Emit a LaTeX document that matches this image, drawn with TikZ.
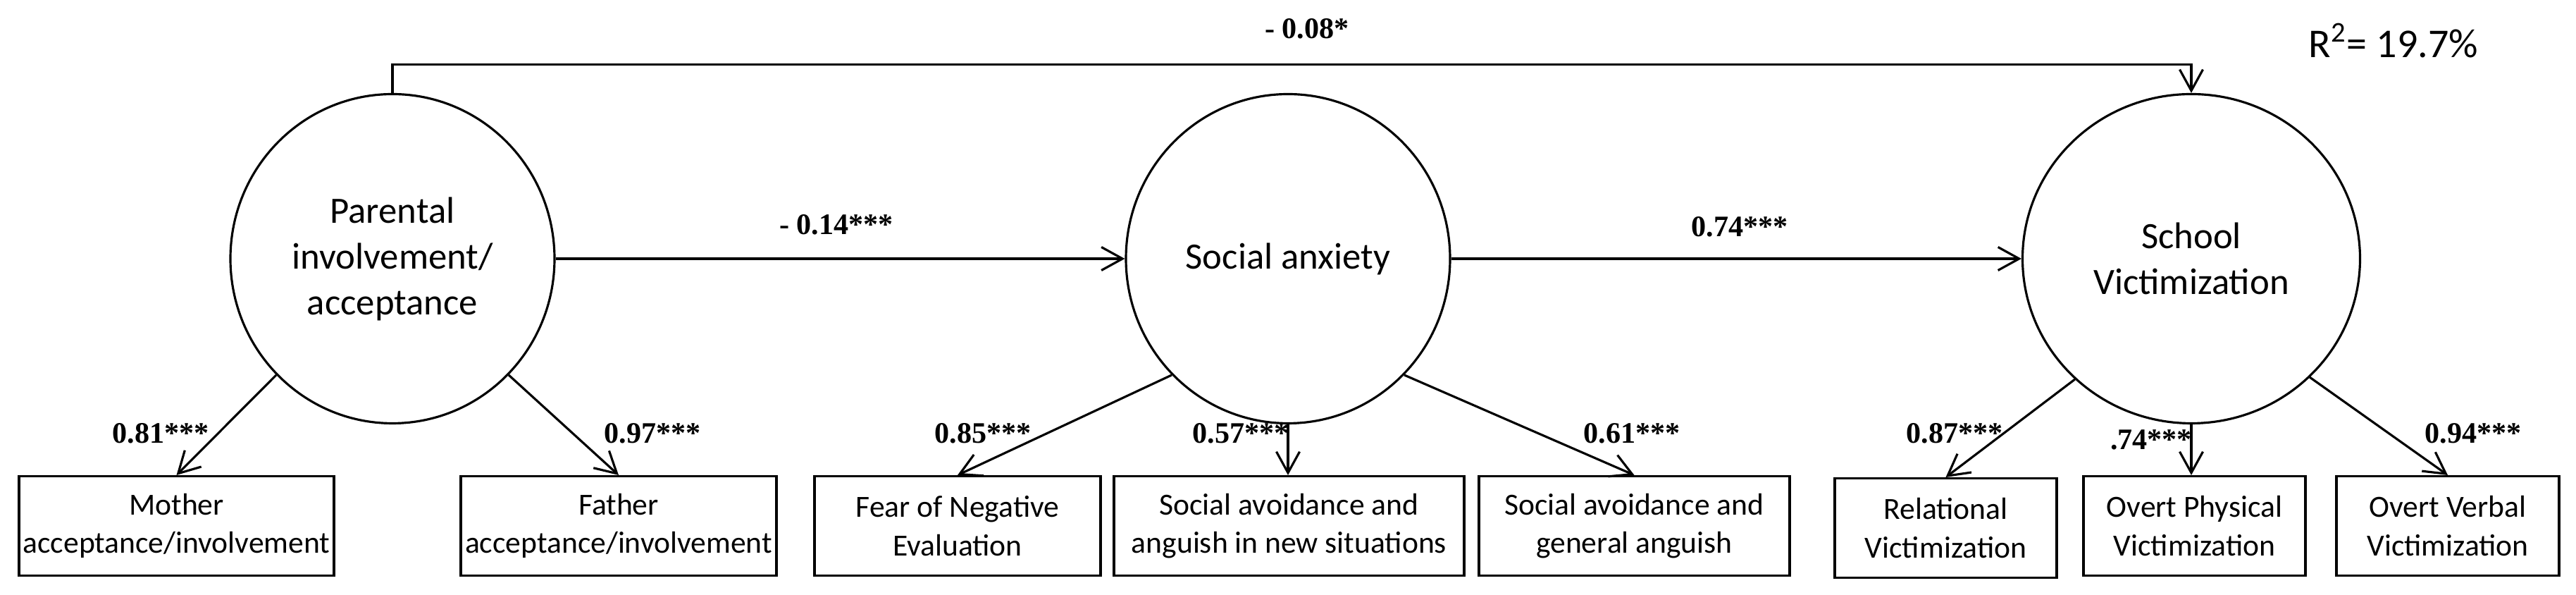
\documentclass[tikz,border=0pt]{standalone}
\usepackage{fontspec}
\setmainfont{Carlito}
\newfontfamily\coeffont{Liberation Serif}
\usetikzlibrary{arrows.meta,shapes.geometric}
\begin{document}
\begin{tikzpicture}[
        latent/.style={draw, ellipse, line width=0.9pt, inner sep=0pt, minimum width=4.6cm, minimum height=4.67cm, align=center, font=\fontsize{15}{18.5}\selectfont},
        indicator/.style={draw, line width=0.9pt, inner sep=0pt, minimum height=1.41cm, anchor=north, align=center, font=\fontsize{12.4}{15.4}\selectfont},
        effect/.style={line width=0.9pt, -{Straight Barb[length=3mm,width=3.3mm]}},
        coef/.style={anchor=base, inner sep=0pt, font=\coeffont\bfseries\fontsize{12}{14}\selectfont}
    ]
        \useasboundingbox (0,0) rectangle (36.56,8.44);
        % latent variables
        \node [latent] (parent) at (5.57,4.77) {Parental\\involvement/\\acceptance};
        \node [latent] (social) at (18.28,4.77) {Social anxiety};
        \node [latent, minimum width=4.79cm] (school) at (31.10,4.77) {School\\Victimization};
        % indicators
        \node [indicator, minimum width=4.47cm] (mother) at (2.505,1.70) {Mother\\acceptance/involvement};
        \node [indicator, minimum width=4.48cm] (father) at (8.78,1.70) {Father\\acceptance/involvement};
        \node [indicator, minimum width=4.06cm] (fear) at (13.59,1.70) {Fear of Negative\\Evaluation};
        \node [indicator, minimum width=4.97cm] (avnew) at (18.295,1.70) {Social avoidance and\\anguish in new situations};
        \node [indicator, minimum width=4.41cm] (avgen) at (23.195,1.70) {Social avoidance and\\general anguish};
        \node [indicator, minimum width=3.15cm] (relat) at (27.615,1.67) {Relational\\Victimization};
        \node [indicator, minimum width=3.15cm] (physic) at (31.145,1.70) {Overt Physical\\Victimization};
        \node [indicator, minimum width=3.16cm] (verbal) at (34.74,1.70) {Overt Verbal\\Victimization};
        % structural paths
        \draw[effect] (parent.north) -- ++(0,0.40) -| (school.north);
        \draw[effect] (parent.east) -- (social.west);
        \draw[effect] (social.east) -- (school.west);
        \node [coef] (c08) at (18.55,7.89) {- 0.08*};
        \node [coef] (c14) at (11.87,5.11) {- 0.14***};
        \node [coef] (c74) at (24.69,5.08) {0.74***};
        % loadings
        \draw[effect] (parent.225) -- (mother.north);
        \draw[effect] (parent.-45) -- (father.north);
        \draw[effect] (social.225) -- (fear.north);
        \draw[effect] (social.south) -- (social.south |- avnew.north);
        \draw[effect] (social.-45) -- (avgen.north);
        \draw[effect] (school.226) -- (relat.north);
        \draw[effect] (school.south) -- (school.south |- physic.north);
        \draw[effect] (school.-45) -- (verbal.north);
        \node [coef] (l81) at (2.28,2.15) {0.81***};
        \node [coef] (l97) at (9.26,2.15) {0.97***};
        \node [coef] (l85) at (13.95,2.15) {0.85***};
        \node [coef] (l57) at (17.61,2.15) {0.57***};
        \node [coef] (l61) at (23.16,2.15) {0.61***};
        \node [coef] (l87) at (27.74,2.15) {0.87***};
        \node [coef] (l74) at (30.53,2.06) {.74***};
        \node [coef] (l94) at (35.10,2.15) {0.94***};
        \node [anchor=base, font=\fontsize{16.5}{20}\selectfont] (rsq) at (33.97,7.62) {R\textsuperscript{2}= 19.7\%};
    \end{tikzpicture}
\end{document}
